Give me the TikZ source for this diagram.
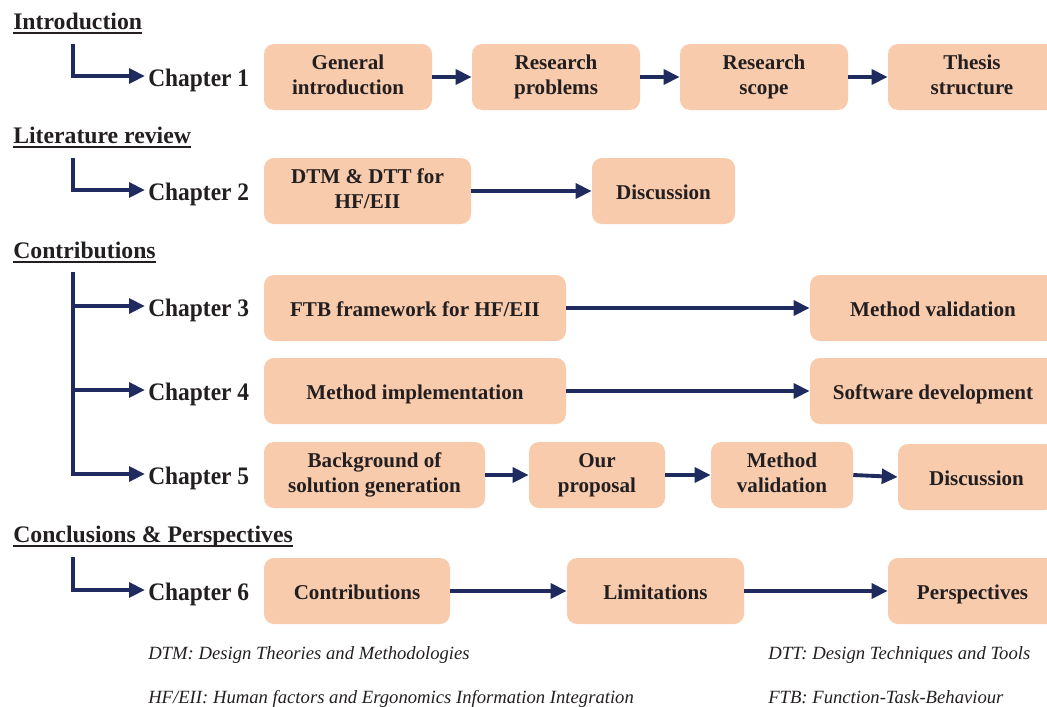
\documentclass[tikz,border=0pt]{standalone}
\usepackage{fontspec}
\setmainfont{Liberation Serif}
\newfontfamily\chapfont{Liberation Serif}[FakeStretch=0.93]
\usepackage{xcolor}
\usetikzlibrary{arrows.meta}
\definecolor{boxfill}{HTML}{F8CBAD}
\definecolor{arrnavy}{HTML}{1F2A5E}
\definecolor{txtdark}{HTML}{231F20}
\newcommand{\ulhead}[1]{\setbox0\hbox{#1}\rlap{\rule[-3.4pt]{\wd0}{1.1pt}}\box0}
\newcommand{\boxstrut}{\rule[-3.6pt]{0pt}{19.5pt}}
\newcommand{\chstrut}{\rule[-4.5pt]{0pt}{24pt}}

\begin{document}
\begin{tikzpicture}[x=0.75pt,y=0.75pt,yscale=-1,xscale=1,
  chbox/.style={fill=boxfill, rounded corners=7.5pt, inner sep=0pt, minimum height=49.5pt, align=center, text=txtdark, font=\bfseries\fontsize{15.8}{18.75}\selectfont, execute at begin node=\boxstrut, execute at end node=\boxstrut},
  chlabel/.style={anchor=west, inner ysep=0pt, inner xsep=2.25pt, text=txtdark, font=\chapfont\bfseries\fontsize{18.9}{20}\selectfont, execute at begin node=\chstrut},
  parthead/.style={anchor=base west, inner sep=0pt, text=txtdark, font=\bfseries\fontsize{17.8}{20}\selectfont},
  abbrev/.style={anchor=base west, inner sep=0pt, text=txtdark, font=\itshape\fontsize{14}{16}\selectfont},
  flow/.style={draw=arrnavy, line width=2.9pt, -{Triangle[length=12pt,width=11pt]}}]
\useasboundingbox (0,0) rectangle (1047,707);

% Part headings
\node[parthead] (hintro) at (13,29) {\ulhead{Introduction}};
\node[parthead] (hlit) at (13,143) {\ulhead{Literature review}};
\node[parthead] (hcontr) at (13,258) {\ulhead{Contributions}};
\node[parthead] (hconcl) at (13,542) {\ulhead{Conclusions \& Perspectives}};

% Elbow starts
\coordinate (tintro) at (73,44);
\coordinate (tlit) at (73,158);
\coordinate (tcontr) at (73,272);
\coordinate (tconcl) at (73,557);

% Chapter labels
\node[chlabel] (ch1) at (145,76) {Chapter 1};
\node[chlabel] (ch2) at (145,190) {Chapter 2};
\node[chlabel] (ch3) at (145,306) {Chapter 3};
\node[chlabel] (ch4) at (145,390) {Chapter 4};
\node[chlabel] (ch5) at (145,474) {Chapter 5};
\node[chlabel] (ch6) at (145,590) {Chapter 6};

% Chapter 1
\node[chbox, minimum width=126pt] (gi) at (348,77) {General\\introduction};
\node[chbox, minimum width=126pt] (rp) at (556,77) {Research\\problems};
\node[chbox, minimum width=126pt] (rs) at (764,77) {Research\\scope};
\node[chbox, minimum width=126pt] (ts) at (972,77) {Thesis\\structure};

% Chapter 2
\node[chbox, minimum width=155.25pt] (dtm) at (367.5,191) {DTM \& DTT for\\HF/EII};
\node[chbox, minimum width=107.25pt] (disc2) at (663.5,191) {Discussion};

% Chapter 3
\node[chbox, minimum width=226.5pt] (ftb) at (415,308) {FTB framework for HF/EII};
\node[chbox, minimum width=184.5pt] (mv3) at (933,308) {Method validation};

% Chapter 4
\node[chbox, minimum width=226.5pt] (mi) at (415,391) {Method implementation};
\node[chbox, minimum width=184.5pt] (sd) at (933,391) {Software development};

% Chapter 5
\node[chbox, minimum width=165.75pt] (bg) at (374.5,475) {Background of\\solution generation};
\node[chbox, minimum width=102pt] (op) at (597,475) {Our\\proposal};
\node[chbox, minimum width=106.5pt] (mv5) at (782,475) {Method\\validation};
\node[chbox, minimum width=117.75pt] (disc5) at (976.5,477) {Discussion};

% Chapter 6
\node[chbox, minimum width=139.5pt] (contr) at (357,591) {Contributions};
\node[chbox, minimum width=132.75pt] (lim) at (655.5,591) {Limitations};
\node[chbox, minimum width=126.75pt] (persp) at (972.5,591) {Perspectives};

% Elbow connectors
\draw[flow] (tintro) |- (ch1.west);
\draw[flow] (tlit) |- (ch2.west);
\draw[flow] (tcontr) |- (ch3.west);
\draw[flow] (tcontr) |- (ch4.west);
\draw[flow] (tcontr) |- (ch5.west);
\draw[flow] (tconcl) |- (ch6.west);

% Flow arrows
\draw[flow] (gi) -- (rp);
\draw[flow] (rp) -- (rs);
\draw[flow] (rs) -- (ts);
\draw[flow] (dtm) -- (disc2);
\draw[flow] (ftb) -- (mv3);
\draw[flow] (mi) -- (sd);
\draw[flow] (bg) -- (op);
\draw[flow] (op) -- (mv5);
\draw[flow] (mv5.east) -- (disc5.west);
\draw[flow] (contr) -- (lim);
\draw[flow] (lim) -- (persp);

% Abbreviations
\node[abbrev] (nDTM) at (148,659) {DTM: Design Theories and Methodologies};
\node[abbrev] (nDTT) at (768,659) {DTT: Design Techniques and Tools};
\node[abbrev] (nHF) at (148,703) {HF/EII: Human factors and Ergonomics Information Integration};
\node[abbrev] (nFTB) at (768,703) {FTB: Function-Task-Behaviour};

\end{tikzpicture}
\end{document}
